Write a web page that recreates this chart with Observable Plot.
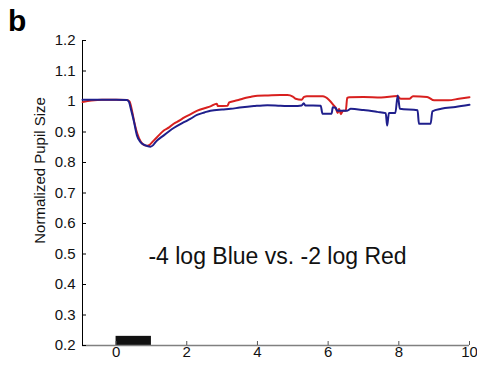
<!DOCTYPE html>
<html>
<head>
<meta charset="utf-8">
<script src="https://cdn.jsdelivr.net/npm/d3@7"></script>
<script src="https://cdn.jsdelivr.net/npm/@observablehq/plot@0.6"></script>
<style>
  html, body { margin: 0; padding: 0; background: #fff; }
  #wrap { position: relative; width: 477px; height: 366px; }
  #panel { position: absolute; left: 8px; top: 6px; font: bold 30px "Liberation Sans", Arial, sans-serif; line-height: 30px; color: #000; }
  #wrap svg { display: block; font-family: "Liberation Sans", Arial, sans-serif; color: #000; }
</style>
</head>
<body>
<div id="wrap"><div id="panel">b</div></div>
<script>
const panelLabel = "b";
const yLabel = "Normalized Pupil Size";
const annotation = "-4 log Blue vs. -2 log Red";

const xTicks = [0, 2, 4, 6, 8, 10];
const xTickLabels = ["0", "2", "4", "6", "8", "10"];
const yTicks = [0.2, 0.3, 0.4, 0.5, 0.6, 0.7, 0.8, 0.9, 1, 1.1, 1.2];
const yTickLabels = ["0.2", "0.3", "0.4", "0.5", "0.6", "0.7", "0.8", "0.9", "1", "1.1", "1.2"];

// Red series (-2 log Red)
const redTime = [-0.95, -0.7, -0.4, 0.0, 0.3, 0.38, 0.45, 0.52, 0.6, 0.7, 0.8, 0.88, 0.95, 1.05, 1.15, 1.35, 1.5, 1.63, 1.8, 1.92, 2.1, 2.3, 2.5, 2.67, 2.85, 2.88, 3.15, 3.2, 3.43, 3.6, 3.8, 4.0, 4.3, 4.65, 4.85, 5.0, 5.08, 5.25, 5.32, 5.4, 5.85, 6.02, 6.16, 6.22, 6.27, 6.31, 6.36, 6.42, 6.5, 6.54, 6.6, 7.0, 7.5, 7.96, 8.05, 8.3, 8.4, 8.8, 9.0, 9.4, 9.7, 10.0];
const redValue = [0.998, 1.003, 1.006, 1.006, 1.005, 1.0, 0.97, 0.93, 0.895, 0.868, 0.857, 0.855, 0.858, 0.87, 0.882, 0.905, 0.915, 0.927, 0.938, 0.947, 0.958, 0.97, 0.978, 0.984, 0.993, 0.985, 0.986, 0.997, 1.004, 1.01, 1.015, 1.019, 1.02, 1.021, 1.021, 1.016, 1.009, 1.006, 1.015, 1.017, 1.017, 1.006, 0.987, 0.978, 0.962, 0.976, 0.958, 0.97, 0.97, 1.012, 1.014, 1.015, 1.013, 1.018, 1.009, 1.009, 1.017, 1.015, 1.004, 1.004, 1.009, 1.014];

// Blue series (-4 log Blue)
const blueTime = [-0.95, -0.5, 0.0, 0.3, 0.36, 0.42, 0.5, 0.59, 0.69, 0.83, 0.97, 1.05, 1.11, 1.35, 1.63, 1.92, 2.1, 2.29, 2.5, 2.67, 3.0, 3.24, 3.5, 3.9, 4.28, 4.65, 5.03, 5.25, 5.31, 5.36, 5.79, 5.84, 6.1, 6.13, 6.21, 6.26, 6.54, 6.64, 7.0, 7.39, 7.63, 7.67, 7.72, 7.9, 7.97, 8.03, 8.53, 8.57, 8.9, 8.95, 9.2, 9.6, 10.0];
const blueValue = [1.006, 1.006, 1.006, 1.005, 1.0, 0.975, 0.938, 0.889, 0.867, 0.856, 0.852, 0.857, 0.866, 0.889, 0.913, 0.932, 0.943, 0.956, 0.964, 0.97, 0.974, 0.976, 0.98, 0.985, 0.988, 0.986, 0.985, 0.987, 0.994, 0.987, 0.986, 0.96, 0.96, 0.981, 0.979, 0.97, 0.97, 0.976, 0.972, 0.966, 0.962, 0.921, 0.962, 0.962, 1.02, 0.976, 0.971, 0.927, 0.927, 0.968, 0.976, 0.982, 0.989];

// Stimulus bar
const stimStart = [0];
const stimEnd = [1];
const stimBase = [0.2];
const stimTop = [0.23];

const xDomain = [-0.95, 10];
const yDomain = [0.2, 1.2];

const red = redTime.map((t, i) => ({t, v: redValue[i]}));
const blue = blueTime.map((t, i) => ({t, v: blueValue[i]}));
const stim = stimStart.map((s, i) => ({s, e: stimEnd[i], b: stimBase[i], top: stimTop[i]}));

const chart = Plot.plot({
  width: 477,
  height: 366,
  marginLeft: 82,
  marginRight: 8,
  marginTop: 40,
  marginBottom: 21,
  x: {domain: xDomain, axis: null},
  y: {domain: yDomain, axis: null},
  marks: [
    Plot.rect(stim, {x1: "s", x2: "e", y1: "b", y2: "top", fill: "#111"}),
    Plot.ruleY([yDomain[0]], {stroke: "#808080", strokeWidth: 1.5}),
    Plot.ruleX([xDomain[0]], {stroke: "#000", strokeWidth: 1}),
    Plot.axisX({ticks: xTicks, tickFormat: () => "", tickSize: -4, stroke: "#555", label: null}),
    Plot.axisY({ticks: yTicks, tickFormat: () => "", tickSize: -4, label: null}),
    Plot.text(xTicks, {x: d => d, y: yDomain[0], text: (d, i) => xTickLabels[i], dy: 1, lineAnchor: "top", fontSize: 15, fill: "#111"}),
    Plot.text(yTicks, {x: xDomain[0], y: d => d, text: (d, i) => yTickLabels[i], dx: -7, textAnchor: "end", fontSize: 15, fill: "#111"}),
    Plot.line(red, {x: "t", y: "v", stroke: "#d8201f", strokeWidth: 2, curve: "monotone-x"}),
    Plot.line(blue, {x: "t", y: "v", stroke: "#1f1f8c", strokeWidth: 2, curve: "monotone-x"}),
    Plot.text([annotation], {x: 4.568, y: 0.492, text: d => d, fontSize: 23, fill: "#111", textAnchor: "middle"}),
    Plot.text([yLabel], {x: xDomain[0], y: 0.774, text: d => d, rotate: -90, dx: -42, fontSize: 15, fill: "#111", textAnchor: "middle"})
  ]
});
document.getElementById("panel").textContent = panelLabel;
document.getElementById("wrap").appendChild(chart);
</script>
</body>
</html>
